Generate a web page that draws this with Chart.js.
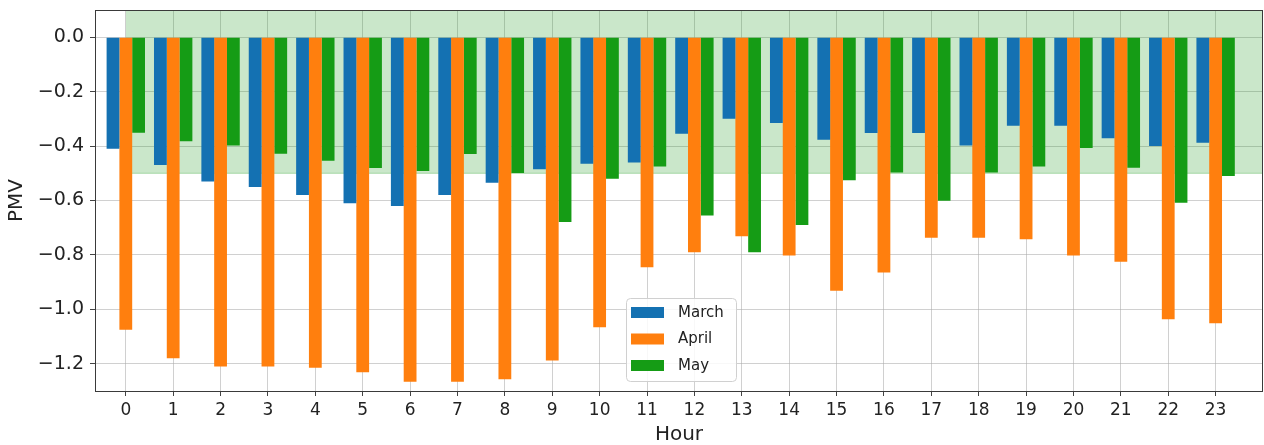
<!DOCTYPE html>
<html>
<head>
<meta charset="utf-8">
<script src="https://cdn.jsdelivr.net/npm/chart.js@4.4.1/dist/chart.umd.min.js"></script>
<style>
  html, body { margin: 0; padding: 0; background: #fff; }
  #wrap { width: 1264px; height: 445px; }
</style>
</head>
<body>
<div id="wrap"><canvas id="pmvChart" width="1264" height="445"></canvas></div>
<script>
// Horas del día
const hours = [0, 1, 2, 3, 4, 5, 6, 7, 8, 9, 10, 11, 12, 13, 14, 15, 16, 17, 18, 19, 20, 21, 22, 23];

// PMV medio por hora
const marchPMV = [-0.41, -0.47, -0.53, -0.55, -0.58, -0.61, -0.62, -0.58, -0.535, -0.485, -0.465, -0.46,
  -0.355, -0.30, -0.315, -0.377, -0.352, -0.352, -0.398, -0.325, -0.325, -0.371, -0.40, -0.388];
const aprilPMV = [-1.075, -1.18, -1.21, -1.21, -1.215, -1.231, -1.266, -1.266, -1.257, -1.188, -1.066, -0.845,
  -0.79, -0.731, -0.802, -0.932, -0.865, -0.737, -0.737, -0.742, -0.802, -0.825, -1.036, -1.051];
const mayPMV = [-0.351, -0.382, -0.398, -0.428, -0.454, -0.481, -0.492, -0.429, -0.499, -0.679, -0.52, -0.475,
  -0.655, -0.79, -0.69, -0.526, -0.497, -0.601, -0.497, -0.475, -0.407, -0.48, -0.608, -0.51];

// Zona de confort sombreada
const comfortHours = [0, 24];
const comfortUpper = [0.1, 0.1];
const comfortLower = [-0.5, -0.5];

// Marcas del eje Y
const yTicks = [0.0, -0.2, -0.4, -0.6, -0.8, -1.0, -1.2];

const seriesLabels = ["March", "April", "May"];
const seriesColors = ["#1471b2", "#ff7f0e", "#159c15"];

function toPoints(xs, ys) {
  return xs.map((x, i) => ({ x: x, y: ys[i] }));
}

function fmtTick(v) {
  const s = Math.abs(v).toFixed(1);
  return (v < -1e-9 ? "\u2212" : "") + s;
}

// Leyenda dibujada a mano dentro del área del gráfico
const boxLegend = {
  id: "boxLegend",
  afterDraw(chart) {
    const ctx = chart.ctx;
    const area = chart.chartArea;
    const bx = area.left + 531, by = area.top + 288, bw = 110, bh = 83;
    ctx.save();
    ctx.fillStyle = "rgba(255,255,255,0.85)";
    ctx.strokeStyle = "#d0d0d0";
    ctx.lineWidth = 1;
    ctx.beginPath();
    ctx.roundRect(bx + 0.5, by + 0.5, bw, bh, 4);
    ctx.fill();
    ctx.stroke();
    ctx.font = "15px 'DejaVu Sans'";
    ctx.textBaseline = "middle";
    const bars = chart.data.datasets.filter(d => d.type !== "line");
    bars.forEach((d, i) => {
      const cy = by + 14 + i * 26.5;
      ctx.fillStyle = d.backgroundColor;
      ctx.fillRect(bx + 5, cy - 5, 33, 11);
      ctx.fillStyle = "#222";
      ctx.fillText(d.label, bx + 52, cy + 1);
    });
    ctx.restore();
  }
};

// Marco del área de trazado
const frame = {
  id: "frame",
  afterDraw(chart) {
    const a = chart.chartArea;
    const ctx = chart.ctx;
    ctx.save();
    ctx.strokeStyle = "#3a3a3a";
    ctx.lineWidth = 1;
    ctx.strokeRect(a.left + 0.5, a.top + 0.5, a.right - a.left - 1, a.bottom - a.top);
    ctx.restore();
  }
};

const ctx = document.getElementById("pmvChart").getContext("2d");
const chart = new Chart(ctx, {
  type: "bar",
  data: {
    datasets: [
      {
        label: seriesLabels[0],
        data: toPoints(hours, marchPMV),
        backgroundColor: seriesColors[0],
        borderWidth: 0,
        order: 1
      },
      {
        label: seriesLabels[1],
        data: toPoints(hours, aprilPMV),
        backgroundColor: seriesColors[1],
        borderWidth: 0,
        order: 1
      },
      {
        label: seriesLabels[2],
        data: toPoints(hours, mayPMV),
        backgroundColor: seriesColors[2],
        borderWidth: 0,
        order: 1
      },
      {
        type: "line",
        label: "comfort-top",
        data: toPoints(comfortHours, comfortUpper),
        borderColor: "rgba(44,160,44,0.35)",
        borderWidth: 1,
        pointRadius: 0,
        backgroundColor: "rgba(44,160,44,0.25)",
        fill: "+1",
        order: 10
      },
      {
        type: "line",
        label: "comfort-bottom",
        data: toPoints(comfortHours, comfortLower),
        borderColor: "rgba(44,160,44,0.35)",
        borderWidth: 1,
        pointRadius: 0,
        fill: false,
        order: 10
      }
    ]
  },
  options: {
    responsive: false,
    animation: false,
    devicePixelRatio: 1,
    layout: { autoPadding: false, padding: { left: 0, right: 1, top: 10, bottom: 0 } },
    datasets: {
      bar: { categoryPercentage: 0.81, barPercentage: 1.0 }
    },
    plugins: {
      legend: { display: false },
      tooltip: { enabled: false }
    },
    scales: {
      x: {
        type: "linear",
        min: -0.65,
        max: 24,
        offset: false,
        afterBuildTicks: scale => { scale.ticks = hours.map(h => ({ value: h })); },
        afterFit: scale => {
          scale.height = 54;
          scale.paddingLeft = 0;
          scale.paddingRight = 0;
        },
        grid: {
          offset: false,
          color: "rgba(170,170,170,0.55)",
          lineWidth: 1,
          tickColor: "#444",
          tickLength: 5
        },
        border: { display: false },
        ticks: {
          autoSkip: false,
          maxRotation: 0,
          padding: 4,
          color: "#222",
          font: { family: "'DejaVu Sans'", size: 17 },
          callback: v => String(v)
        },
        title: {
          display: true,
          text: "Hour",
          color: "#222",
          font: { family: "'DejaVu Sans'", size: 20, lineHeight: 1 },
          padding: { top: 0, bottom: 0 }
        }
      },
      y: {
        type: "linear",
        min: -1.3,
        max: 0.1,
        afterBuildTicks: scale => { scale.ticks = yTicks.map(v => ({ value: v })); },
        afterFit: scale => {
          scale.width = 95;
          scale.paddingTop = 0;
          scale.paddingBottom = 0;
        },
        grid: {
          color: "rgba(170,170,170,0.55)",
          lineWidth: 1,
          tickColor: "#444",
          tickLength: 5
        },
        border: { display: false },
        ticks: {
          padding: 6,
          color: "#222",
          font: { family: "'DejaVu Sans'", size: 19 },
          callback: v => fmtTick(v)
        },
        title: {
          display: true,
          text: "PMV",
          color: "#222",
          font: { family: "'DejaVu Sans'", size: 20, lineHeight: 1.2 },
          padding: { top: 5, bottom: 0 }
        }
      }
    }
  },
  plugins: [boxLegend, frame]
});
</script>
</body>
</html>
